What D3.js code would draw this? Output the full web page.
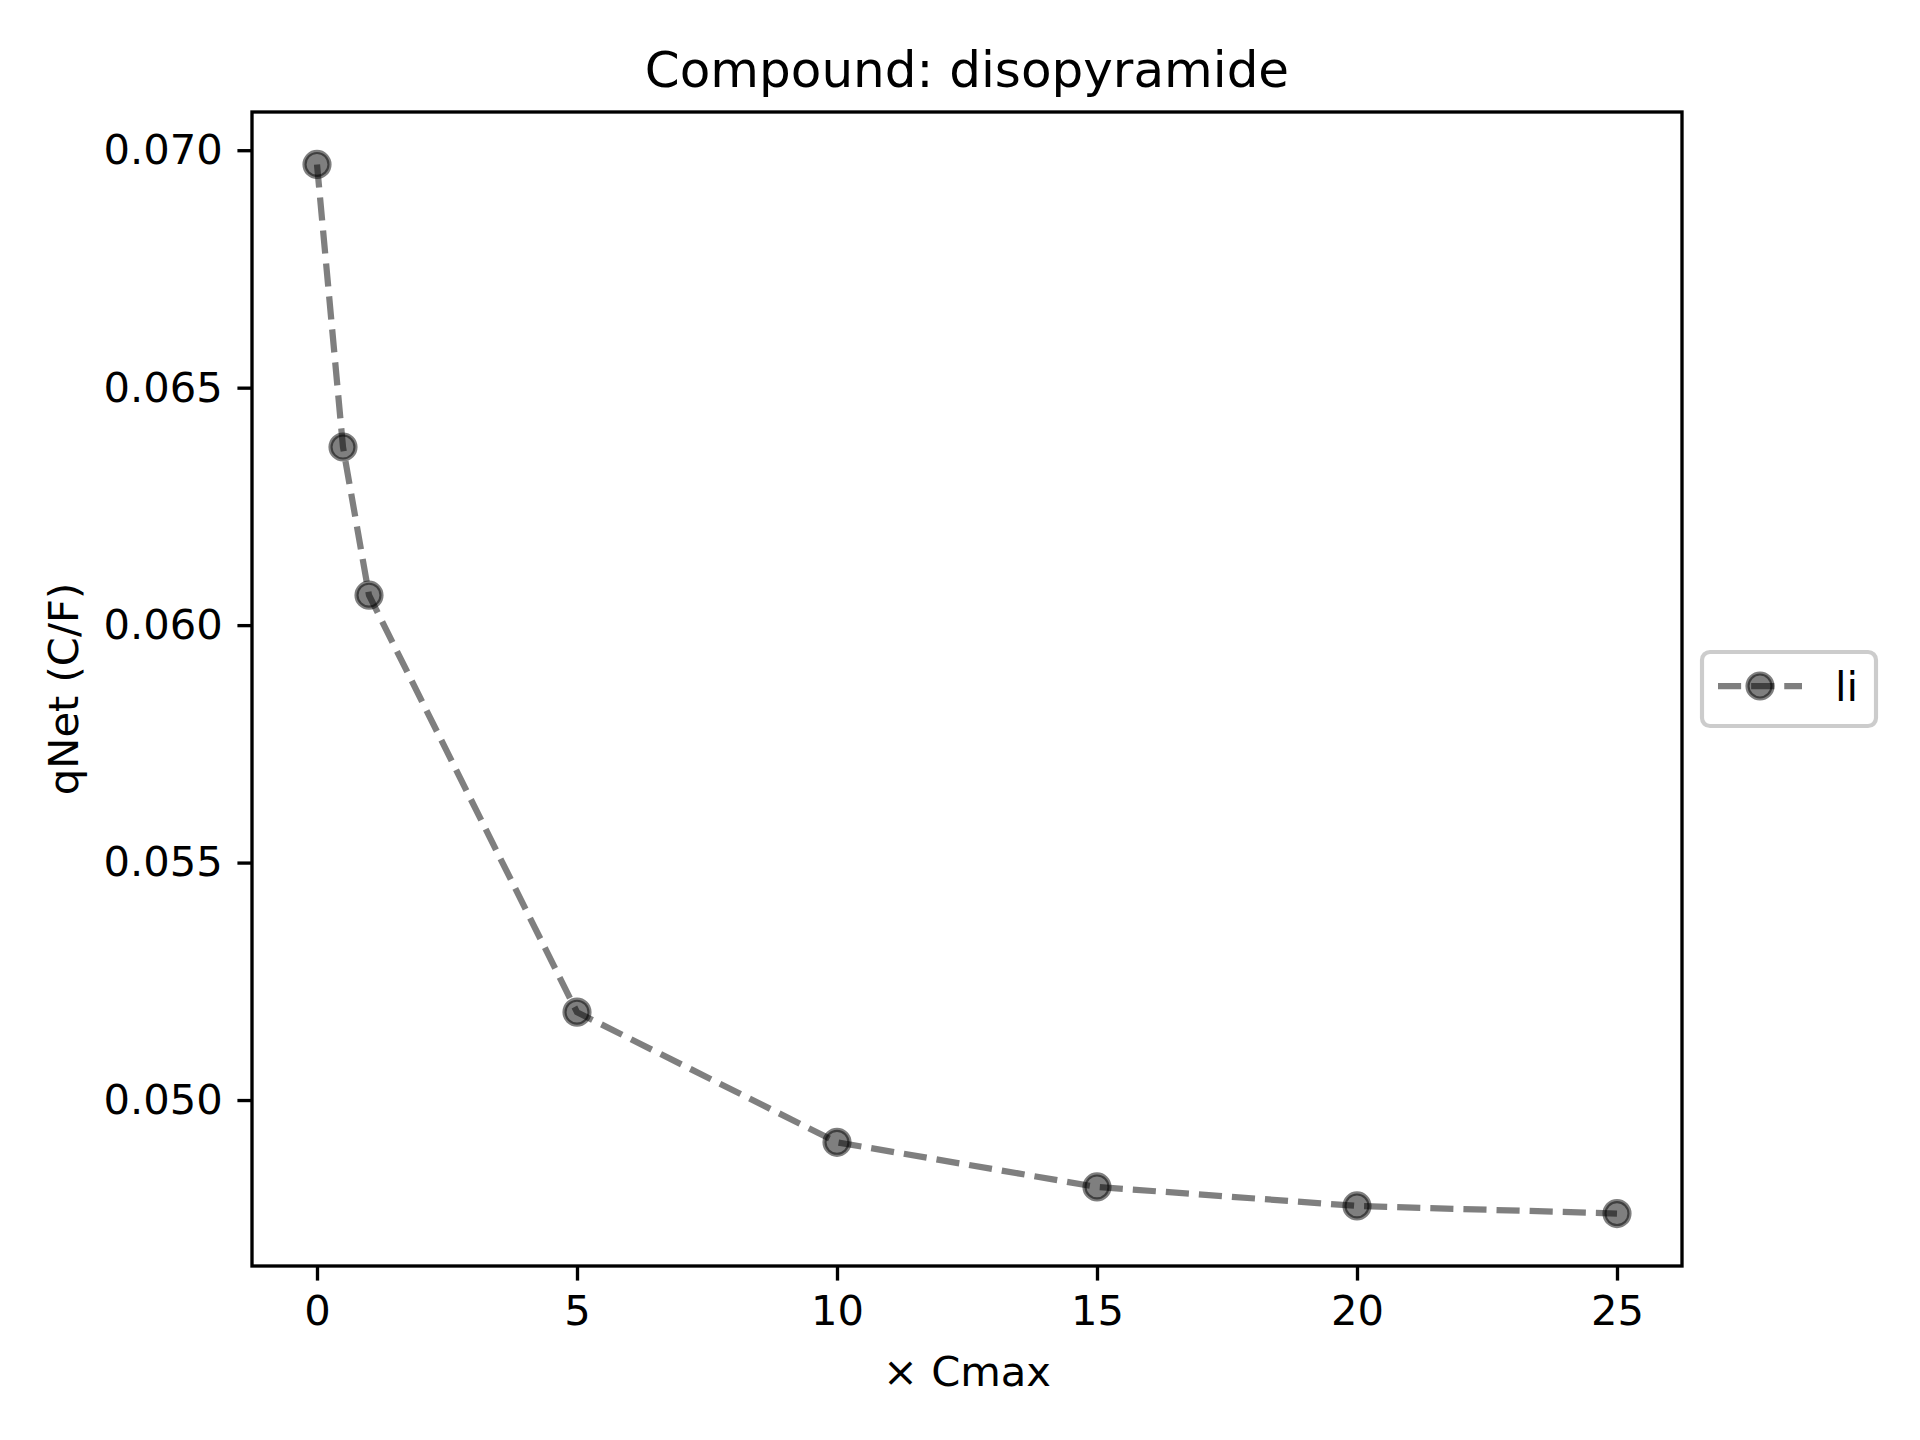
<!DOCTYPE html>
<html>
<head>
<meta charset="utf-8">
<script src="https://cdn.jsdelivr.net/npm/d3@7"></script>
<style>
  body { margin: 0; background: #fff; }
  svg { display: block; font-family: "DejaVu Sans", sans-serif; }
</style>
</head>
<body>
<svg id="chart"></svg>
<script>
// data
const cmax = [0, 0.5, 1, 5, 10, 15, 20, 25];
const qNet = [0.06970, 0.06375, 0.06063, 0.05185, 0.04911, 0.04817, 0.04777, 0.04761];
const xTicks = [0, 5, 10, 15, 20, 25];
const yTicks = [0.050, 0.055, 0.060, 0.065, 0.070];
const seriesName = "li";

const width = 1920;
const height = 1440;
const pt = 300 / 72; // figure was 300 dpi
const m = { left: 252, right: 1682, top: 112, bottom: 1266 };

const svg = d3.select("#chart").attr("width", width).attr("height", height);

// matplotlib-like 5% margins
const pad = (a, b) => [a - (b - a) * 0.05, b + (b - a) * 0.05];
const x = d3.scaleLinear().domain(pad(d3.min(cmax), d3.max(cmax))).range([m.left, m.right]);
const y = d3.scaleLinear().domain(pad(d3.min(qNet), d3.max(qNet))).range([m.bottom, m.top]);

const fontSize = 10 * pt;
const tickLen = 3.5 * pt;

// axes
const xAxis = svg.append("g")
  .attr("transform", `translate(0,${m.bottom})`)
  .call(d3.axisBottom(x).tickValues(xTicks).tickFormat(d3.format("d"))
    .tickSize(tickLen).tickPadding(3.5 * pt).tickSizeOuter(0));
const yAxis = svg.append("g")
  .attr("transform", `translate(${m.left},0)`)
  .call(d3.axisLeft(y).tickValues(yTicks).tickFormat(d3.format(".3f"))
    .tickSize(tickLen).tickPadding(3.5 * pt).tickSizeOuter(0));

[xAxis, yAxis].forEach(g => {
  g.select(".domain").remove();
  g.selectAll("line").attr("stroke", "#000").attr("stroke-width", 0.8 * pt);
  g.selectAll("text").attr("fill", "#000")
    .style("font-size", fontSize + "px")
    .style("font-family", "DejaVu Sans");
});

// line + markers
const pts = cmax.map((c, i) => [c, qNet[i]]);
const line = d3.line().x(d => x(d[0])).y(d => y(d[1]));

svg.append("path")
  .datum(pts)
  .attr("d", line)
  .attr("fill", "none")
  .attr("stroke", "#000")
  .attr("stroke-opacity", 0.5)
  .attr("stroke-width", 1.5 * pt)
  .attr("stroke-dasharray", `${3.7 * 1.5 * pt},${1.6 * 1.5 * pt}`);

svg.selectAll("circle.pt")
  .data(pts)
  .enter()
  .append("circle")
  .attr("class", "pt")
  .attr("cx", d => x(d[0]))
  .attr("cy", d => y(d[1]))
  .attr("r", 3 * pt)
  .attr("fill", "#000")
  .attr("fill-opacity", 0.5)
  .attr("stroke", "#000")
  .attr("stroke-opacity", 0.5)
  .attr("stroke-width", 1 * pt);

// frame
svg.append("rect")
  .attr("x", m.left).attr("y", m.top)
  .attr("width", m.right - m.left).attr("height", m.bottom - m.top)
  .attr("fill", "none").attr("stroke", "#000").attr("stroke-width", 0.8 * pt);

// title & labels
svg.append("text")
  .attr("x", (m.left + m.right) / 2).attr("y", m.top - 6 * pt)
  .attr("text-anchor", "middle")
  .style("font-size", 12 * pt + "px")
  .text("Compound: disopyramide");

svg.append("text")
  .attr("x", (m.left + m.right) / 2).attr("y", 1386)
  .attr("text-anchor", "middle")
  .style("font-size", fontSize + "px")
  .text("× Cmax");

svg.append("text")
  .attr("transform", `translate(78,${(m.top + m.bottom) / 2}) rotate(-90)`)
  .attr("text-anchor", "middle")
  .style("font-size", fontSize + "px")
  .text("qNet (C/F)");

// legend
const lg = svg.append("g").attr("transform", `translate(1702,${(m.top + m.bottom) / 2})`);
lg.append("rect")
  .attr("x", 0).attr("y", -37)
  .attr("width", 174).attr("height", 74)
  .attr("rx", 8).attr("ry", 8)
  .attr("fill", "#fff").attr("fill-opacity", 0.8)
  .attr("stroke", "#cccccc").attr("stroke-width", 1 * pt);
lg.append("line")
  .attr("x1", 16).attr("x2", 100).attr("y1", -3).attr("y2", -3)
  .attr("stroke", "#000").attr("stroke-opacity", 0.5)
  .attr("stroke-width", 1.5 * pt)
  .attr("stroke-dasharray", `${3.7 * 1.5 * pt},${1.6 * 1.5 * pt}`);
lg.append("circle")
  .attr("cx", 58).attr("cy", -3).attr("r", 3 * pt)
  .attr("fill", "#000").attr("fill-opacity", 0.5)
  .attr("stroke", "#000").attr("stroke-opacity", 0.5)
  .attr("stroke-width", 1 * pt);
lg.append("text")
  .attr("x", 133).attr("y", 12)
  .style("font-size", fontSize + "px")
  .text(seriesName);
</script>
</body>
</html>
